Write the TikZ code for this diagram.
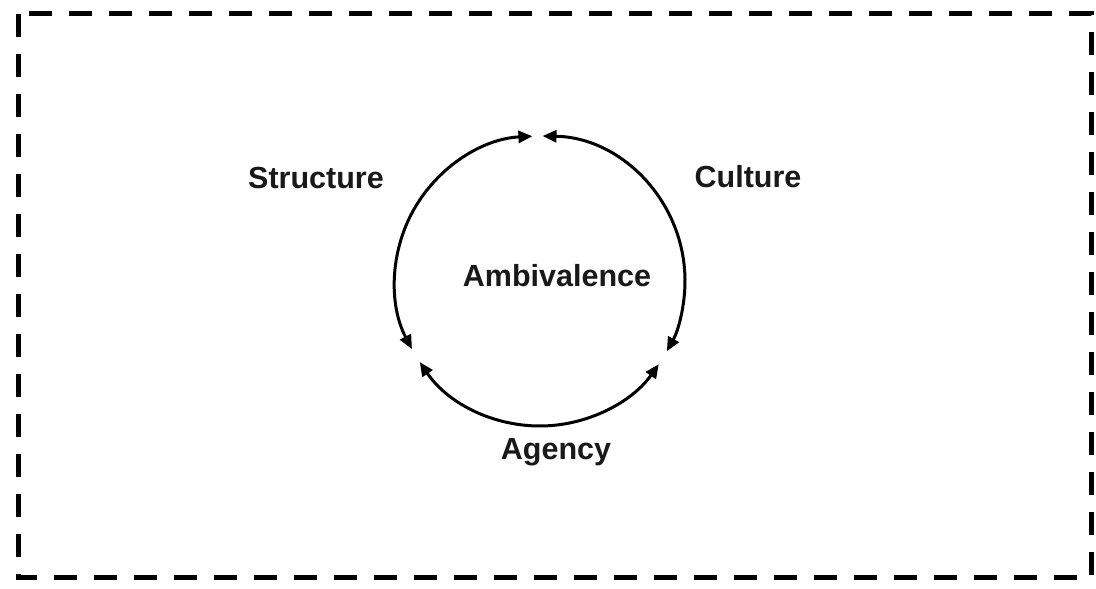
\documentclass[tikz,border=0pt]{standalone}
\usepackage{fontspec}
\setmainfont{Liberation Sans}
\usetikzlibrary{arrows.meta}
\begin{document}
\begin{tikzpicture}[x=1pt,y=1pt,
  lbl/.style={font=\bfseries\fontsize{30.5}{35}\selectfont, text=black!90, anchor=base, inner sep=0pt},
  cyc/.style={line width=3pt, {Triangle[length=14pt,width=12pt]}-{Triangle[length=14pt,width=12pt]}},
  frame/.style={line width=5pt, dash pattern=on 23pt off 17pt}]
\useasboundingbox (0,0) rectangle (1096,589);
\draw[frame] (18,575) rectangle (1091,11);
\coordinate (c) at (540,308);
\path (c) ++(93:145) coordinate (t1);
\path (c) ++(89:145) coordinate (t2);
\path (c) ++(214:145) coordinate (b1);
\draw[cyc] (t1) arc[start angle=93, end angle=208, radius=145];
\draw[cyc] (t2) arc[start angle=89, end angle=-29, radius=145];
\draw[cyc] (b1) arc[start angle=214, end angle=325, radius=145];
\node[lbl] (structure) at (316,400) {Structure};
\node[lbl] (culture) at (748,401) {Culture};
\node[lbl] (amb) at (557,302) {Ambivalence};
\node[lbl] (agency) at (556,129) {Agency};
\end{tikzpicture}
\end{document}
